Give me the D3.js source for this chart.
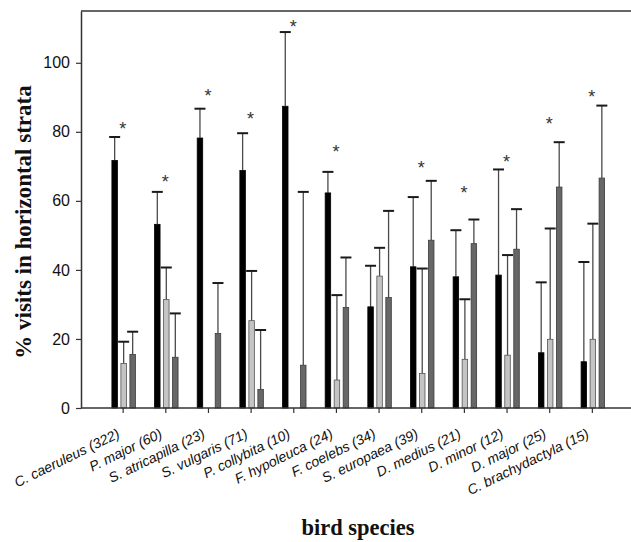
<!DOCTYPE html>
<html>
<head>
<meta charset="utf-8">
<script src="https://cdn.jsdelivr.net/npm/d3@7"></script>
<style>
  body { margin: 0; background: #fff; }
  svg { display: block; }
</style>
</head>
<body>
<div id="chart"></div>
<script>
// bird species with sample size
const species = ["C. caeruleus (322)", "P. major (60)", "S. atricapilla (23)", "S. vulgaris (71)",
    "P. collybita (10)", "F. hypoleuca (24)", "F. coelebs (34)", "S. europaea (39)",
    "D. medius (21)", "D. minor (12)", "D. major (25)", "C. brachydactyla (15)"];

// three horizontal strata (black, light grey, dark grey bars)
const strata = ["stratum1", "stratum2", "stratum3"];

// mean % visits
const mean1 = [71.7, 53.2, 78.2, 68.8, 87.4, 62.3, 29.3, 40.9, 38.0, 38.5, 16.0, 13.4];
const mean2 = [12.9, 31.4, 0, 25.3, 0, 8.1, 38.2, 10.0, 14.1, 15.3, 19.9, 19.9];
const mean3 = [15.5, 14.7, 21.6, 5.4, 12.4, 29.1, 32.0, 48.6, 47.6, 46.0, 64.0, 66.6];

// upper error (SD)
const err1 = [6.8, 9.4, 8.5, 10.8, 21.5, 6.1, 11.9, 20.2, 13.5, 30.6, 20.4, 28.9];
const err2 = [6.3, 9.3, 0, 14.4, 0, 24.6, 8.2, 30.4, 17.4, 29.0, 32.1, 33.5];
const err3 = [6.6, 12.7, 14.6, 17.2, 50.2, 14.5, 25.1, 17.2, 7.0, 11.6, 13.0, 21.0];

// significance asterisk (value level where it sits, null = not significant)
const sigLevel = [81.9, 66.5, 91.4, 84.8, 111.5, 75.4, null, 70.8, 63.3, 72.4, 83.3, 91.3];

const yTicks = [0, 20, 40, 60, 80, 100];

const width = 631, height = 542;
const margin = { top: 11, left: 81, bottom: 134 };
const plotBottom = height - margin.bottom;

const svg = d3.select("#chart").append("svg")
    .attr("width", width)
    .attr("height", height);

const x = d3.scalePoint().domain(species).range([80, 634.5]).padding(1);
const sub = d3.scalePoint().domain(strata).range([-8, 10]);
const y = d3.scaleLinear().domain([0, 115]).range([plotBottom, margin.top]);

const fills = { stratum1: "#000", stratum2: "#c4c4c4", stratum3: "#676767" };
const strokes = { stratum1: "#000", stratum2: "#555", stratum3: "#3a3a3a" };

const means = [mean1, mean2, mean3];
const errs = [err1, err2, err3];
const bars = [];
species.forEach((s, i) => {
    strata.forEach((k, j) => {
        bars.push({ species: s, stratum: k, mean: means[j][i], err: errs[j][i] });
    });
});

const barW = 5.5;
const capW = 11;

// error whiskers first (bars drawn over them)
const eb = svg.append("g").selectAll("g")
    .data(bars.filter(d => d.mean > 0))
    .join("g");

eb.append("line")
    .attr("x1", d => x(d.species) + sub(d.stratum))
    .attr("x2", d => x(d.species) + sub(d.stratum))
    .attr("y1", d => y(d.mean))
    .attr("y2", d => y(d.mean + d.err))
    .attr("stroke", "#4a4a4a")
    .attr("stroke-width", 1.3);

eb.append("line")
    .attr("x1", d => x(d.species) + sub(d.stratum) - capW / 2)
    .attr("x2", d => x(d.species) + sub(d.stratum) + capW / 2)
    .attr("y1", d => y(d.mean + d.err))
    .attr("y2", d => y(d.mean + d.err))
    .attr("stroke", "#1a1a1a")
    .attr("stroke-width", 2);

svg.append("g").selectAll("rect")
    .data(bars.filter(d => d.mean > 0))
    .join("rect")
    .attr("x", d => x(d.species) + sub(d.stratum) - barW / 2)
    .attr("y", d => y(d.mean))
    .attr("width", barW)
    .attr("height", d => y(0) - y(d.mean))
    .attr("fill", d => fills[d.stratum])
    .attr("stroke", d => strokes[d.stratum])
    .attr("stroke-width", 0.8);

// asterisks
svg.append("g").selectAll("text")
    .data(species.map((s, i) => ({ species: s, level: sigLevel[i] })).filter(d => d.level != null))
    .join("text")
    .attr("x", d => x(d.species))
    .attr("y", d => y(d.level) + 10)
    .attr("text-anchor", "middle")
    .style("font-family", "Liberation Sans, Arial, sans-serif")
    .style("font-size", "18px")
    .style("fill", "#333")
    .text("*");

// frame: top line
svg.append("line")
    .attr("x1", margin.left).attr("x2", width)
    .attr("y1", margin.top).attr("y2", margin.top)
    .attr("stroke", "#333").attr("stroke-width", 1.5);

// x axis
const xAxis = svg.append("g")
    .attr("transform", `translate(0,${plotBottom})`)
    .call(d3.axisBottom(x).tickSizeInner(5).tickSizeOuter(0).tickFormat(""));
xAxis.select(".domain").attr("d", `M${margin.left},0H${width}`).attr("stroke", "#333").attr("stroke-width", 1.5);
xAxis.selectAll(".tick line").attr("stroke", "#333").attr("stroke-width", 1.2);

svg.append("g").selectAll("text")
    .data(species)
    .join("text")
    .attr("transform", d => `translate(${x(d) - 2},${plotBottom + 29}) rotate(-26)`)
    .attr("text-anchor", "end")
    .style("font-family", "Liberation Sans, Arial, sans-serif")
    .style("font-style", "italic")
    .style("font-size", "14px")
    .style("fill", "#111")
    .text(d => d);

// y axis
const yAxis = svg.append("g")
    .attr("transform", `translate(${margin.left},0)`)
    .call(d3.axisLeft(y).tickValues(yTicks).tickSizeInner(5).tickSizeOuter(0).tickPadding(6));
yAxis.select(".domain").attr("stroke", "#333").attr("stroke-width", 1.5);
yAxis.selectAll(".tick line").attr("stroke", "#333").attr("stroke-width", 1.2);
yAxis.selectAll(".tick text")
    .style("font-family", "Liberation Sans, Arial, sans-serif")
    .style("font-size", "16px")
    .style("fill", "#111");

// axis titles
svg.append("text")
    .attr("transform", `translate(31,222) rotate(-90)`)
    .attr("text-anchor", "middle")
    .style("font-family", "Liberation Serif, Times New Roman, serif")
    .style("font-weight", "bold")
    .style("font-size", "23px")
    .style("fill", "#111")
    .text("% visits in horizontal strata");

svg.append("text")
    .attr("x", 358)
    .attr("y", 535)
    .attr("text-anchor", "middle")
    .style("font-family", "Liberation Serif, Times New Roman, serif")
    .style("font-weight", "bold")
    .style("font-size", "22.5px")
    .style("fill", "#111")
    .text("bird species");
</script>
</body>
</html>
